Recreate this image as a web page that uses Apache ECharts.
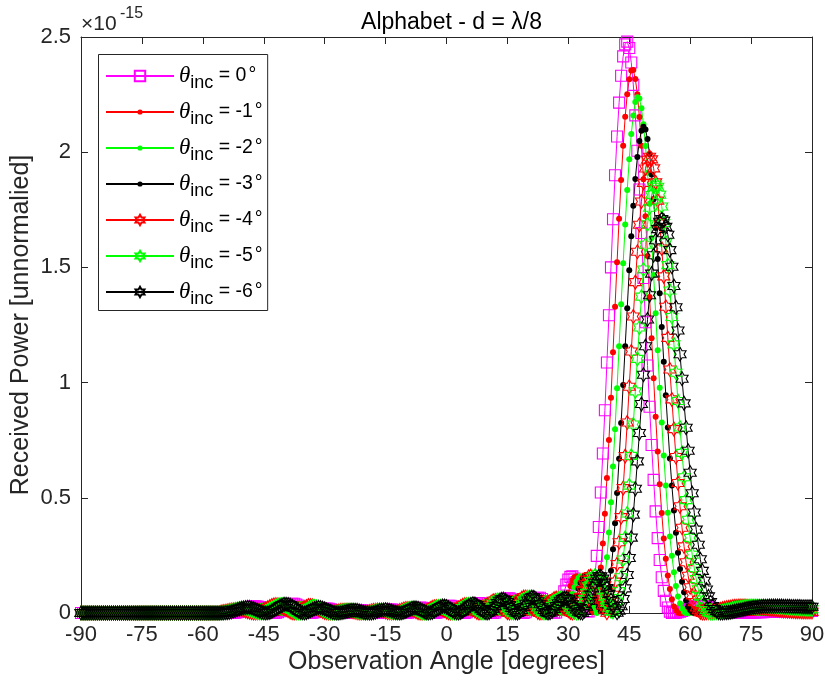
<!DOCTYPE html>
<html>
<head>
<meta charset="utf-8">
<script src="https://cdn.jsdelivr.net/npm/echarts@6.0.0/dist/echarts.min.js"></script>
<style>
html, body { margin: 0; padding: 0; background: #ffffff; }
#chart { width: 825px; height: 686px; }
</style>
</head>
<body>
<div id="chart"></div>
<script>
// Observation angles in degrees, 0.5 degree steps
const angles = [
  -90,-89.5,-89,-88.5,-88,-87.5,-87,-86.5,-86,-85.5,
  -85,-84.5,-84,-83.5,-83,-82.5,-82,-81.5,-81,-80.5,
  -80,-79.5,-79,-78.5,-78,-77.5,-77,-76.5,-76,-75.5,
  -75,-74.5,-74,-73.5,-73,-72.5,-72,-71.5,-71,-70.5,
  -70,-69.5,-69,-68.5,-68,-67.5,-67,-66.5,-66,-65.5,
  -65,-64.5,-64,-63.5,-63,-62.5,-62,-61.5,-61,-60.5,
  -60,-59.5,-59,-58.5,-58,-57.5,-57,-56.5,-56,-55.5,
  -55,-54.5,-54,-53.5,-53,-52.5,-52,-51.5,-51,-50.5,
  -50,-49.5,-49,-48.5,-48,-47.5,-47,-46.5,-46,-45.5,
  -45,-44.5,-44,-43.5,-43,-42.5,-42,-41.5,-41,-40.5,
  -40,-39.5,-39,-38.5,-38,-37.5,-37,-36.5,-36,-35.5,
  -35,-34.5,-34,-33.5,-33,-32.5,-32,-31.5,-31,-30.5,
  -30,-29.5,-29,-28.5,-28,-27.5,-27,-26.5,-26,-25.5,
  -25,-24.5,-24,-23.5,-23,-22.5,-22,-21.5,-21,-20.5,
  -20,-19.5,-19,-18.5,-18,-17.5,-17,-16.5,-16,-15.5,
  -15,-14.5,-14,-13.5,-13,-12.5,-12,-11.5,-11,-10.5,
  -10,-9.5,-9,-8.5,-8,-7.5,-7,-6.5,-6,-5.5,
  -5,-4.5,-4,-3.5,-3,-2.5,-2,-1.5,-1,-0.5,
  0,0.5,1,1.5,2,2.5,3,3.5,4,4.5,
  5,5.5,6,6.5,7,7.5,8,8.5,9,9.5,
  10,10.5,11,11.5,12,12.5,13,13.5,14,14.5,
  15,15.5,16,16.5,17,17.5,18,18.5,19,19.5,
  20,20.5,21,21.5,22,22.5,23,23.5,24,24.5,
  25,25.5,26,26.5,27,27.5,28,28.5,29,29.5,
  30,30.5,31,31.5,32,32.5,33,33.5,34,34.5,
  35,35.5,36,36.5,37,37.5,38,38.5,39,39.5,
  40,40.5,41,41.5,42,42.5,43,43.5,44,44.5,
  45,45.5,46,46.5,47,47.5,48,48.5,49,49.5,
  50,50.5,51,51.5,52,52.5,53,53.5,54,54.5,
  55,55.5,56,56.5,57,57.5,58,58.5,59,59.5,
  60,60.5,61,61.5,62,62.5,63,63.5,64,64.5,
  65,65.5,66,66.5,67,67.5,68,68.5,69,69.5,
  70,70.5,71,71.5,72,72.5,73,73.5,74,74.5,
  75,75.5,76,76.5,77,77.5,78,78.5,79,79.5,
  80,80.5,81,81.5,82,82.5,83,83.5,84,84.5,
  85,85.5,86,86.5,87,87.5,88,88.5,89,89.5,
  90
];

// Incidence angle of each curve (degrees)
const incidence = [0, -1, -2, -3, -4, -5, -6];

// Received power, in units of 1e-15 (one value per angle)
const power0 = [
  0,0,0,0,0,0,0,0,0,0, 0,0,0,0,0,0,0,0,0,0, 0,0,0,0,0,0,0,0,0,0,
  0,0,0,0,0,0,0,0,0,0, 0,0,0,0,0,0,0,0,0,0, 0,0,0,0,0,0,0,0,0,0,
  0,0,0,0,0,0,0,0,0,
  .002,.002,.001,.001,0,0,0,.001,.003,.006,
  .009,.013,.016,.021,.024,.027,.029,.029,.028,.026,
  .022,.017,.012,.008,.004,.001,0,.001,.003,.008,
  .014,.020,.027,.032,.037,.040,.040,.037,.032,.026,
  .019,.012,.006,.002,0,.001,.003,.006,.010,.014,
  .017,.018,.019,.018,.016,.013,.010,.006,.004,.001,
  0,0,.001,.002,.004,.007,.009,.011,.012,.012,
  .011,.009,.007,.004,.002,.001,0,0,.002,.004,
  .007,.011,.013,.015,.015,.014,.012,.009,.006,.003,
  .001,0,.001,.004,.008,.014,.018,.022,.024,.023,
  .021,.017,.011,.006,.002,0,.001,.004,.009,.016,
  .023,.028,.031,.031,.029,.024,.017,.010,.004,.001,
  0,.003,.010,.018,.027,.035,.041,.043,.042,.036,
  .028,.019,.010,.003,0,.002,.009,.020,.033,.046,
  .057,.063,.064,.059,.050,.037,.023,.011,.003,0,
  .003,.012,.025,.039,.052,.061,.066,.066,.061,.052,
  .039,.025,.014,.006,.001,.002,.013,
  .035,.064,.094,.123,.145,.157,.159,.150,.131,.106,
  .077,.047,.024,.008,.007,.031,.079,.151,.248,.373,
  .523,.692,.880,1.087,1.292,1.500,1.709,1.900,2.068,2.215,
  2.332,2.416,2.468,2.480,2.452,2.389,2.292,2.160,2.006,1.838,
  1.649,1.454,1.262,1.074,.895,.729,.578,.441,.325,.230,
  .155,.096,.053,.024,.006,0,0,.001,.003,.006,
  .009,.012,.016,.019,.022,.025,.027,.029,.030,.030,
  .030,.029,.028,.026,.024,.021,.019,.016,.014,.011,
  .009,.007,.005,.003,.002,.001,0,0,0,
  0,0,0,.001,.001,.002,.002,.002,.003,.003,.004,.004,.005,.005,.006,.006,.006,.007,
  .007,.007,.008,.008,.008,.008,.008,.008,.009,.009,.009,.009,.009,.009,.009,.009,.009,.009
];
const power1 = [
  0,0,0,0,0,0,0,0,0,0, 0,0,0,0,0,0,0,0,0,0, 0,0,0,0,0,0,0,0,0,0,
  0,0,0,0,0,0,0,0,0,0, 0,0,0,0,0,0,0,0,0,0, 0,0,0,0,0,0,0,0,0,0,
  0,0,0,0,0,0,0,0,0,
  .005,.005,.004,.004,.003,.002,.001,0,0,0,
  .002,.004,.007,.011,.015,.020,.024,.028,.031,.032,
  .031,.029,.026,.021,.016,.011,.006,.003,0,0,
  .002,.005,.011,.018,.024,.031,.036,.039,.040,.038,
  .034,.027,.020,.013,.007,.002,0,0,.002,.005,
  .008,.011,.014,.016,.017,.016,.014,.012,.009,.006,
  .004,.001,0,0,.001,.002,.004,.007,.009,.011,
  .012,.012,.011,.009,.007,.004,.002,.001,0,0,
  .002,.005,.008,.011,.014,.016,.016,.015,.013,.010,
  .006,.003,.001,0,.001,.005,.009,.014,.019,.023,
  .025,.025,.022,.017,.011,.006,.002,0,.001,.005,
  .010,.017,.024,.029,.032,.032,.029,.024,.017,.009,
  .004,0,0,.004,.011,.020,.029,.037,.043,.046,
  .044,.038,.029,.019,.010,.003,0,.002,.010,.021,
  .035,.049,.059,.065,.066,.061,.050,.038,.023,.011,
  .003,0,.003,.012,.023,.037,.050,.060,.065,.066,
  .061,.052,.041,.029,.016,.006,.001,
  .001,.011,.032,.058,.088,.117,.141,.155,.160,.154,
  .138,.114,.085,.056,.030,.013,.003,.021,.057,.116,
  .198,.302,.431,.586,.751,.934,1.132,1.329,1.522,1.711,
  1.879,2.028,2.154,2.251,2.317,2.355,2.357,2.318,2.252,2.153,
  2.028,1.883,1.722,1.550,1.372,1.192,1.019,.852,.701,.559,
  .434,.323,.236,.163,.104,.060,.028,.012,.001,0,
  .001,.002,.004,.007,.010,.013,.016,.019,.022,.025,
  .027,.028,.029,.030,.030,.029,.028,.027,.025,.023,
  .021,.019,.016,.014,.012,.010,.008,.006,.004,
  .003,.002,.001,.001,0,0,0,0,0,0,.001,.001,.001,.001,.002,.002,.002,.003,
  .003,.003,.003,.004,.004,.004,.004,.005,.005,.005,.005,.005,.005,.005,.005,.006,.006,.006
];
const power2 = [
  0,0,0,0,0,0,0,0,0,0, 0,0,0,0,0,0,0,0,0,0, 0,0,0,0,0,0,0,0,0,0,
  0,0,0,0,0,0,0,0,0,0, 0,0,0,0,0,0,0,0,0,0, 0,0,0,0,0,0,0,0,0,0,
  0,0,0,0,0,0,0,0,0,
  .007,.007,.008,.008,.007,.007,.006,.004,.003,.001,
  0,0,.001,.002,.005,.009,.013,.018,.023,.028,
  .031,.033,.033,.032,.029,.025,.020,.015,.009,.004,
  .001,0,.001,.004,.009,.015,.022,.028,.034,.038,
  .039,.037,.033,.027,.020,.013,.007,.003,0,0,
  .001,.003,.006,.009,.012,.014,.014,.014,.013,.011,
  .008,.006,.004,.002,0,0,.001,.002,.004,.007,
  .009,.011,.012,.012,.011,.009,.007,.005,.002,.001,
  0,.001,.002,.005,.009,.012,.015,.017,.017,.016,
  .013,.010,.006,.003,0,0,.002,.005,.010,.016,
  .021,.025,.027,.025,.022,.017,.011,.006,.002,0,
  .001,.005,.011,.018,.025,.030,.033,.033,.030,.023,
  .017,.009,.004,0,.001,.005,.012,.021,.031,.040,
  .047,.049,.046,.040,.030,.019,.010,.002,0,.003,
  .011,.023,.037,.051,.062,.067,.068,.063,.051,.038,
  .023,.011,.003,0,.003,.011,.022,.036,.049,.058,
  .064,.065,.060,.053,.042,.029,.017,
  .007,.001,0,.008,.027,.053,.082,.112,.136,.152,
  .160,.157,.142,.120,.094,.064,.038,.018,0,.011,
  .039,.084,.151,.242,.349,.481,.636,.798,.975,1.158,
  1.340,1.518,1.686,1.836,1.969,2.079,2.159,2.218,2.238,2.233,
  2.191,2.121,2.027,1.911,1.776,1.628,1.467,1.301,1.140,.978,
  .827,.684,.553,.435,.332,.249,.177,.117,.072,.041,
  .019,.005,0,0,.001,.003,.005,.007,.010,.013,
  .016,.019,.022,.024,.026,.028,.029,.030,.030,.030,
  .029,.028,.027,.026,.024,.022,.020,.018,.016,
  .014,.012,.010,.009,.007,.005,.004,.003,.002,.001,.001,0,0,0,0,0,0,0,
  0,0,0,.001,.001,.001,.001,.001,.001,.001,.001,.001,.002,.002,.002,.002,.002,.002
];
const power3 = [
  0,0,0,0,0,0,0,0,0,0, 0,0,0,0,0,0,0,0,0,0, 0,0,0,0,0,0,0,0,0,0,
  0,0,0,0,0,0,0,0,0,0, 0,0,0,0,0,0,0,0,0,0, 0,0,0,0,0,0,0,0,0,0,
  0,0,0,0,0,0,0,0,0,
  .006,.008,.009,.010,.011,.011,.011,.011,.009,.007,
  .005,.003,.002,0,0,.001,.003,.006,.011,.016,
  .021,.026,.030,.033,.035,.034,.032,.029,.024,.018,
  .012,.007,.003,0,0,.002,.006,.012,.019,.026,
  .032,.035,.036,.035,.031,.025,.019,.012,.007,.003,
  .001,0,.001,.003,.005,.008,.010,.012,.013,.013,
  .012,.010,.008,.006,.004,.002,0,0,.001,.002,
  .004,.007,.009,.011,.012,.012,.011,.010,.007,.005,
  .002,.001,0,.001,.003,.006,.009,.013,.016,.018,
  .018,.017,.014,.010,.006,.003,0,0,.002,.006,
  .012,.017,.023,.026,.027,.026,.023,.017,.011,.005,
  .001,0,.002,.006,.012,.020,.027,.032,.034,.034,
  .031,.024,.017,.009,.003,0,.001,.006,.013,.023,
  .034,.044,.049,.051,.049,.041,.031,.020,.010,.002,
  0,.003,.012,.024,.038,.053,.063,.069,.069,.063,
  .051,.038,.024,.011,.003,0,.003,.010,.021,.034,
  .047,.057,.063,.065,.062,.054,.043,
  .031,.019,.009,.002,0,.006,.023,.046,.075,.105,
  .130,.149,.159,.158,.147,.128,.104,.075,.048,.025,
  .008,.004,.023,.058,.110,.183,.277,.390,.521,.669,
  .825,.990,1.158,1.323,1.488,1.635,1.768,1.884,1.979,2.049,
  2.093,2.110,2.099,2.057,1.992,1.903,1.796,1.671,1.536,1.388,
  1.241,1.091,.945,.805,.671,.553,.445,.348,.262,.191,
  .136,.090,.054,.029,.013,.003,0,0,.001,.003,
  .005,.007,.010,.013,.015,.018,.021,.023,.025,.027,
  .028,.029,.030,.030,.030,.029,.029,.028,.027,
  .025,.024,.022,.020,.019,.017,.015,.014,.012,.011,.009,.008,.007,.006,.005,.004,.003,.003,
  .002,.002,.001,.001,.001,.001,0,0,0,0,0,0,0,0,0,0,0,0
];
const power4 = [
  0,0,0,0,0,0,0,0,0,0, 0,0,0,0,0,0,0,0,0,0, 0,0,0,0,0,0,0,0,0,0,
  0,0,0,0,0,0,0,0,0,0, 0,0,0,0,0,0,0,0,0,0, 0,0,0,0,0,0,0,0,0,0,
  0,0,0,0,0,0,0,0,0,
  .004,.006,.007,.009,.011,.013,.014,.015,.016,.015,
  .014,.012,.009,.006,.004,.002,0,0,.001,.004,
  .008,.013,.018,.023,.028,.032,.035,.036,.035,.032,
  .027,.022,.015,.010,.005,.001,0,.001,.005,.010,
  .016,.023,.028,.032,.032,.031,.028,.023,.017,.012,
  .007,.003,.001,0,0,.002,.004,.006,.009,.011,
  .012,.012,.012,.011,.009,.006,.004,.002,0,0,
  .001,.002,.004,.006,.009,.011,.012,.013,.012,.010,
  .008,.005,.002,.001,0,.001,.003,.006,.010,.014,
  .017,.019,.019,.017,.014,.011,.006,.002,0,0,
  .002,.007,.012,.019,.024,.027,.028,.027,.023,.017,
  .011,.005,.001,0,.002,.007,.013,.021,.028,.033,
  .036,.036,.032,.025,.017,.009,.003,0,.001,.006,
  .015,.025,.037,.047,.053,.054,.051,.043,.032,.020,
  .010,.002,0,.003,.012,.025,.039,.055,.064,.069,
  .069,.063,.052,.038,.023,.012,.003,0,.002,.009,
  .020,.033,.045,.055,.062,.065,.062,
  .055,.045,.033,.021,.010,.003,0,.004,.018,.040,
  .069,.098,.125,.145,.157,.160,.154,.136,.112,.086,
  .058,.033,.014,.001,.013,.036,.079,.136,.212,.307,
  .416,.542,.681,.827,.982,1.135,1.287,1.436,1.568,1.685,
  1.786,1.867,1.929,1.967,1.980,1.969,1.930,1.869,1.790,1.691,
  1.582,1.461,1.329,1.194,1.057,.927,.798,.677,.564,.463,
  .370,.289,.220,.162,.112,.076,.047,.024,.012,.003,
  0,0,.001,.002,.004,.006,.008,.011,.013,.016,
  .019,.021,.023,.025,.026,.028,.029,.029,.030,
  .030,.030,.030,.029,.028,.027,.026,.025,.024,.023,.021,.020,.019,.018,.016,.015,.014,.013,
  .012,.011,.010,.009,.009,.008,.008,.007,.007,.006,.006,.006,.005,.005,.005,.005,.005,.005
];
const power5 = [
  0,0,0,0,0,0,0,0,0,0, 0,0,0,0,0,0,0,0,0,0, 0,0,0,0,0,0,0,0,0,0,
  0,0,0,0,0,0,0,0,0,0, 0,0,0,0,0,0,0,0,0,0, 0,0,0,0,0,0,0,0,0,0,
  0,0,0,0,0,0,0,0,0,
  .001,.002,.004,.005,.008,.010,.013,.015,.017,.019,
  .020,.020,.019,.017,.014,.010,.007,.004,.001,0,
  0,.002,.005,.010,.015,.021,.027,.031,.035,.037,
  .037,.035,.031,.025,.019,.013,.007,.002,0,0,
  .003,.008,.013,.019,.023,.027,.028,.027,.024,.020,
  .015,.011,.007,.003,.001,0,0,.001,.003,.006,
  .008,.010,.011,.012,.012,.011,.009,.006,.004,.002,
  .001,0,.001,.002,.004,.006,.009,.012,.013,.013,
  .012,.011,.008,.005,.002,.001,0,.001,.003,.007,
  .011,.015,.018,.020,.020,.019,.015,.011,.006,.002,
  0,0,.003,.008,.013,.020,.025,.028,.029,.027,
  .023,.017,.010,.005,.001,0,.002,.007,.014,.022,
  .030,.035,.038,.037,.032,.025,.017,.009,.003,0,
  .001,.007,.017,.028,.040,.050,.056,.057,.054,.045,
  .033,.021,.010,.002,0,.003,.013,.026,.040,.055,
  .064,.069,.069,.063,.051,.038,.024,.012,.004,0,
  .002,.008,.019,.031,.044,.055,.062,
  .065,.063,.057,.047,.036,.023,.012,.005,0,.002,
  .013,.033,.061,.088,.116,.139,.154,.160,.156,.143,
  .122,.098,.070,.044,.023,.008,.005,.020,.050,.095,
  .155,.232,.326,.432,.553,.682,.818,.962,1.103,1.239,
  1.373,1.491,1.598,1.687,1.759,1.814,1.848,1.860,1.850,1.815,
  1.764,1.693,1.608,1.510,1.400,1.285,1.166,1.043,.920,.805,
  .695,.589,.490,.405,.326,.253,.195,.147,.103,.071,
  .045,.025,.013,.004,0,0,.001,.002,.003,.005,
  .007,.009,.011,.013,.015,.018,.020,.022,.023,
  .025,.026,.028,.028,.029,.030,.030,.030,.030,.030,.029,.029,.028,.028,.027,.026,.026,.025,
  .024,.023,.023,.022,.021,.020,.020,.019,.019,.018,.018,.017,.017,.017,.016,.016,.016,.016
];
const power6 = [
  0,0,0,0,0,0,0,0,0,0, 0,0,0,0,0,0,0,0,0,0, 0,0,0,0,0,0,0,0,0,0,
  0,0,0,0,0,0,0,0,0,0, 0,0,0,0,0,0,0,0,0,0, 0,0,0,0,0,0,0,0,0,0,
  0,0,0,0,0,0,0,0,0,
  0,0,.001,.002,.003,.005,.008,.010,.014,.017,
  .020,.022,.023,.024,.024,.022,.019,.015,.011,.007,
  .003,.001,0,.001,.003,.007,.012,.018,.024,.030,
  .034,.038,.038,.037,.034,.029,.022,.015,.009,.004,
  .001,0,.002,.006,.010,.015,.019,.022,.024,.023,
  .021,.018,.014,.010,.007,.003,.001,0,0,.001,
  .003,.005,.007,.009,.011,.012,.012,.011,.009,.007,
  .004,.002,.001,0,0,.002,.004,.007,.010,.012,
  .013,.014,.013,.011,.009,.005,.003,.001,0,.001,
  .004,.007,.012,.016,.020,.022,.022,.020,.016,.011,
  .006,.002,0,.001,.003,.008,.015,.021,.026,.030,
  .030,.028,.023,.017,.010,.004,.001,0,.003,.008,
  .016,.024,.032,.037,.040,.039,.034,.026,.017,.009,
  .003,0,.002,.008,.018,.030,.043,.053,.059,.060,
  .056,.047,.034,.022,.010,.002,0,.004,.013,.026,
  .040,.054,.064,.069,.068,.062,.051,.038,.025,.013,
  .004,0,.001,.007,.018,.030,.042,
  .053,.061,.065,.064,.059,.049,.038,.025,.015,.006,
  .001,0,.009,.027,.052,.080,.107,.131,.149,.159,
  .159,.149,.132,.108,.083,.056,.032,.014,.001,.010,
  .029,.061,.107,.165,.239,.327,.427,.539,.658,.781,
  .907,1.034,1.158,1.274,1.379,1.473,1.553,1.618,1.666,1.698,
  1.710,1.703,1.676,1.642,1.575,1.503,1.419,1.327,1.226,1.123,
  1.017,.910,.804,.704,.609,.520,.436,.362,.296,.233,
  .183,.140,.102,.072,.048,.030,.017,.008,.002,0,
  0,.001,.002,.003,.004,.006,.008,.010,.012,
  .013,.015,.017,.019,.021,.022,.024,.025,.026,.027,.028,.029,.029,.029,.030,.030,.030,.030,
  .030,.030,.030,.029,.029,.029,.029,.028,.028,.028,.028,.028,.027,.027,.027,.027,.027,.027
];

const powers = [power0, power1, power2, power3, power4, power5, power6];

const FONT = '"Liberation Sans", Arial, Helvetica, sans-serif';
const AXIS_COLOR = '#262626';

// Marker outlines; the leading moves pad the box so the dot stays small
const SQUARE = 'path://M0 0L100 0L100 100L0 100Z';
const DOT = 'path://M0 0M100 100M75 50A25 25 0 1 1 25 50A25 25 0 1 1 75 50Z';
const HEXAGRAM = 'path://M0 0M100 100M50 0L64.43 25L93.3 25L78.87 50L93.3 75L64.43 75L50 100L35.57 75L6.7 75L21.13 50L6.7 25L35.57 25Z';

const looks = [
  { color: '#ff00ff', symbol: SQUARE,   size: 11, hollow: true },
  { color: '#ff0000', symbol: DOT,      size: 12, hollow: false },
  { color: '#00ff00', symbol: DOT,      size: 12, hollow: false },
  { color: '#000000', symbol: DOT,      size: 12, hollow: false },
  { color: '#ff0000', symbol: HEXAGRAM, size: 14, hollow: true },
  { color: '#00ff00', symbol: HEXAGRAM, size: 14, hollow: true },
  { color: '#000000', symbol: HEXAGRAM, size: 14, hollow: true }
];

const names = incidence.map(v => 'θinc = ' + v + '°');

const series = powers.map((vals, i) => ({
  type: 'line',
  name: names[i],
  data: angles.map((a, j) => [a, vals[j]]),
  symbol: looks[i].symbol,
  symbolSize: looks[i].size,
  symbolKeepAspect: true,
  showSymbol: true,
  showAllSymbol: true,
  lineStyle: { color: looks[i].color, width: 1 },
  itemStyle: looks[i].hollow
    ? { color: 'rgba(0,0,0,0)', borderColor: looks[i].color, borderWidth: 1.1 }
    : { color: looks[i].color, borderWidth: 0 },
  emphasis: { disabled: true },
  animation: false,
  clip: true
}));

function axisBase(extra) {
  return Object.assign({
    type: 'value',
    axisLine: { show: true, onZero: false, lineStyle: { color: AXIS_COLOR, width: 1 } },
    axisTick: { show: true, inside: true, length: 7, lineStyle: { color: AXIS_COLOR, width: 1 } },
    splitLine: { show: false },
    nameMoveOverlap: false
  }, extra);
}

const labelStyle = { color: AXIS_COLOR, fontFamily: FONT, fontSize: 22 };
const nameStyle = { color: AXIS_COLOR, fontFamily: FONT, fontSize: 25 };

const chart = echarts.init(document.getElementById('chart'), null, { renderer: 'canvas' });
chart.setOption({
  animation: false,
  backgroundColor: '#ffffff',
  title: {
    text: 'Alphabet - d = λ/8',
    left: 446.5,
    textAlign: 'center',
    top: 6,
    textStyle: { fontFamily: FONT, fontSize: 23, fontWeight: 'normal', color: '#000000' }
  },
  grid: { left: 81, right: 13, top: 37, bottom: 73, outerBoundsMode: 'none', containLabel: false },
  xAxis: [
    axisBase({
      position: 'bottom', min: -90, max: 90, interval: 15,
      axisLabel: Object.assign({ margin: 11 }, labelStyle),
      name: 'Observation Angle [degrees]', nameLocation: 'middle', nameGap: 37,
      nameTextStyle: nameStyle
    }),
    axisBase({ position: 'top', min: -90, max: 90, interval: 15, axisLabel: { show: false } })
  ],
  yAxis: [
    axisBase({
      position: 'left', min: 0, max: 2.5, interval: 0.5,
      axisLabel: Object.assign({ margin: 10 }, labelStyle),
      name: 'Received Power [unnormalied]', nameLocation: 'middle', nameGap: 47, nameRotate: 90,
      nameTextStyle: nameStyle
    }),
    axisBase({ position: 'right', min: 0, max: 2.5, interval: 0.5, axisLabel: { show: false } })
  ],
  legend: {
    orient: 'vertical',
    left: 98.5,
    top: 54.5,
    padding: [10, 5, 2, 6.5],
    itemGap: 8,
    itemWidth: 68,
    itemHeight: 13,
    selectedMode: false,
    backgroundColor: '#ffffff',
    borderColor: AXIS_COLOR,
    borderWidth: 1,
    borderRadius: 0,
    data: names,
    formatter: name => {
      const v = incidence[names.indexOf(name)];
      return '{th|θ}{sub|inc}{t| = ' + v + '}{deg|°}';
    },
    textStyle: {
      color: '#000000', fontFamily: FONT, fontSize: 19,
      rich: {
        th: { fontFamily: '"Liberation Serif", "DejaVu Serif", serif', fontStyle: 'italic', fontSize: 23, color: '#000000', lineHeight: 33 },
        sub: { fontFamily: FONT, fontSize: 18, color: '#000000', verticalAlign: 'bottom', lineHeight: 14 },
        t: { fontFamily: FONT, fontSize: 19.5, color: '#000000', lineHeight: 33 },
        deg: { fontFamily: FONT, fontSize: 19.5, color: '#000000', lineHeight: 33, padding: [0, 0, 0, 2] }
      }
    }
  },
  graphic: [
    { type: 'text', left: 81, top: 14, style: { text: '×10', font: '21px "Liberation Sans", Arial, sans-serif', fill: AXIS_COLOR } },
    { type: 'text', left: 120, top: 6, style: { text: '-15', font: '16px "Liberation Sans", Arial, sans-serif', fill: AXIS_COLOR } }
  ],
  series: series
});
</script>
</body>
</html>
